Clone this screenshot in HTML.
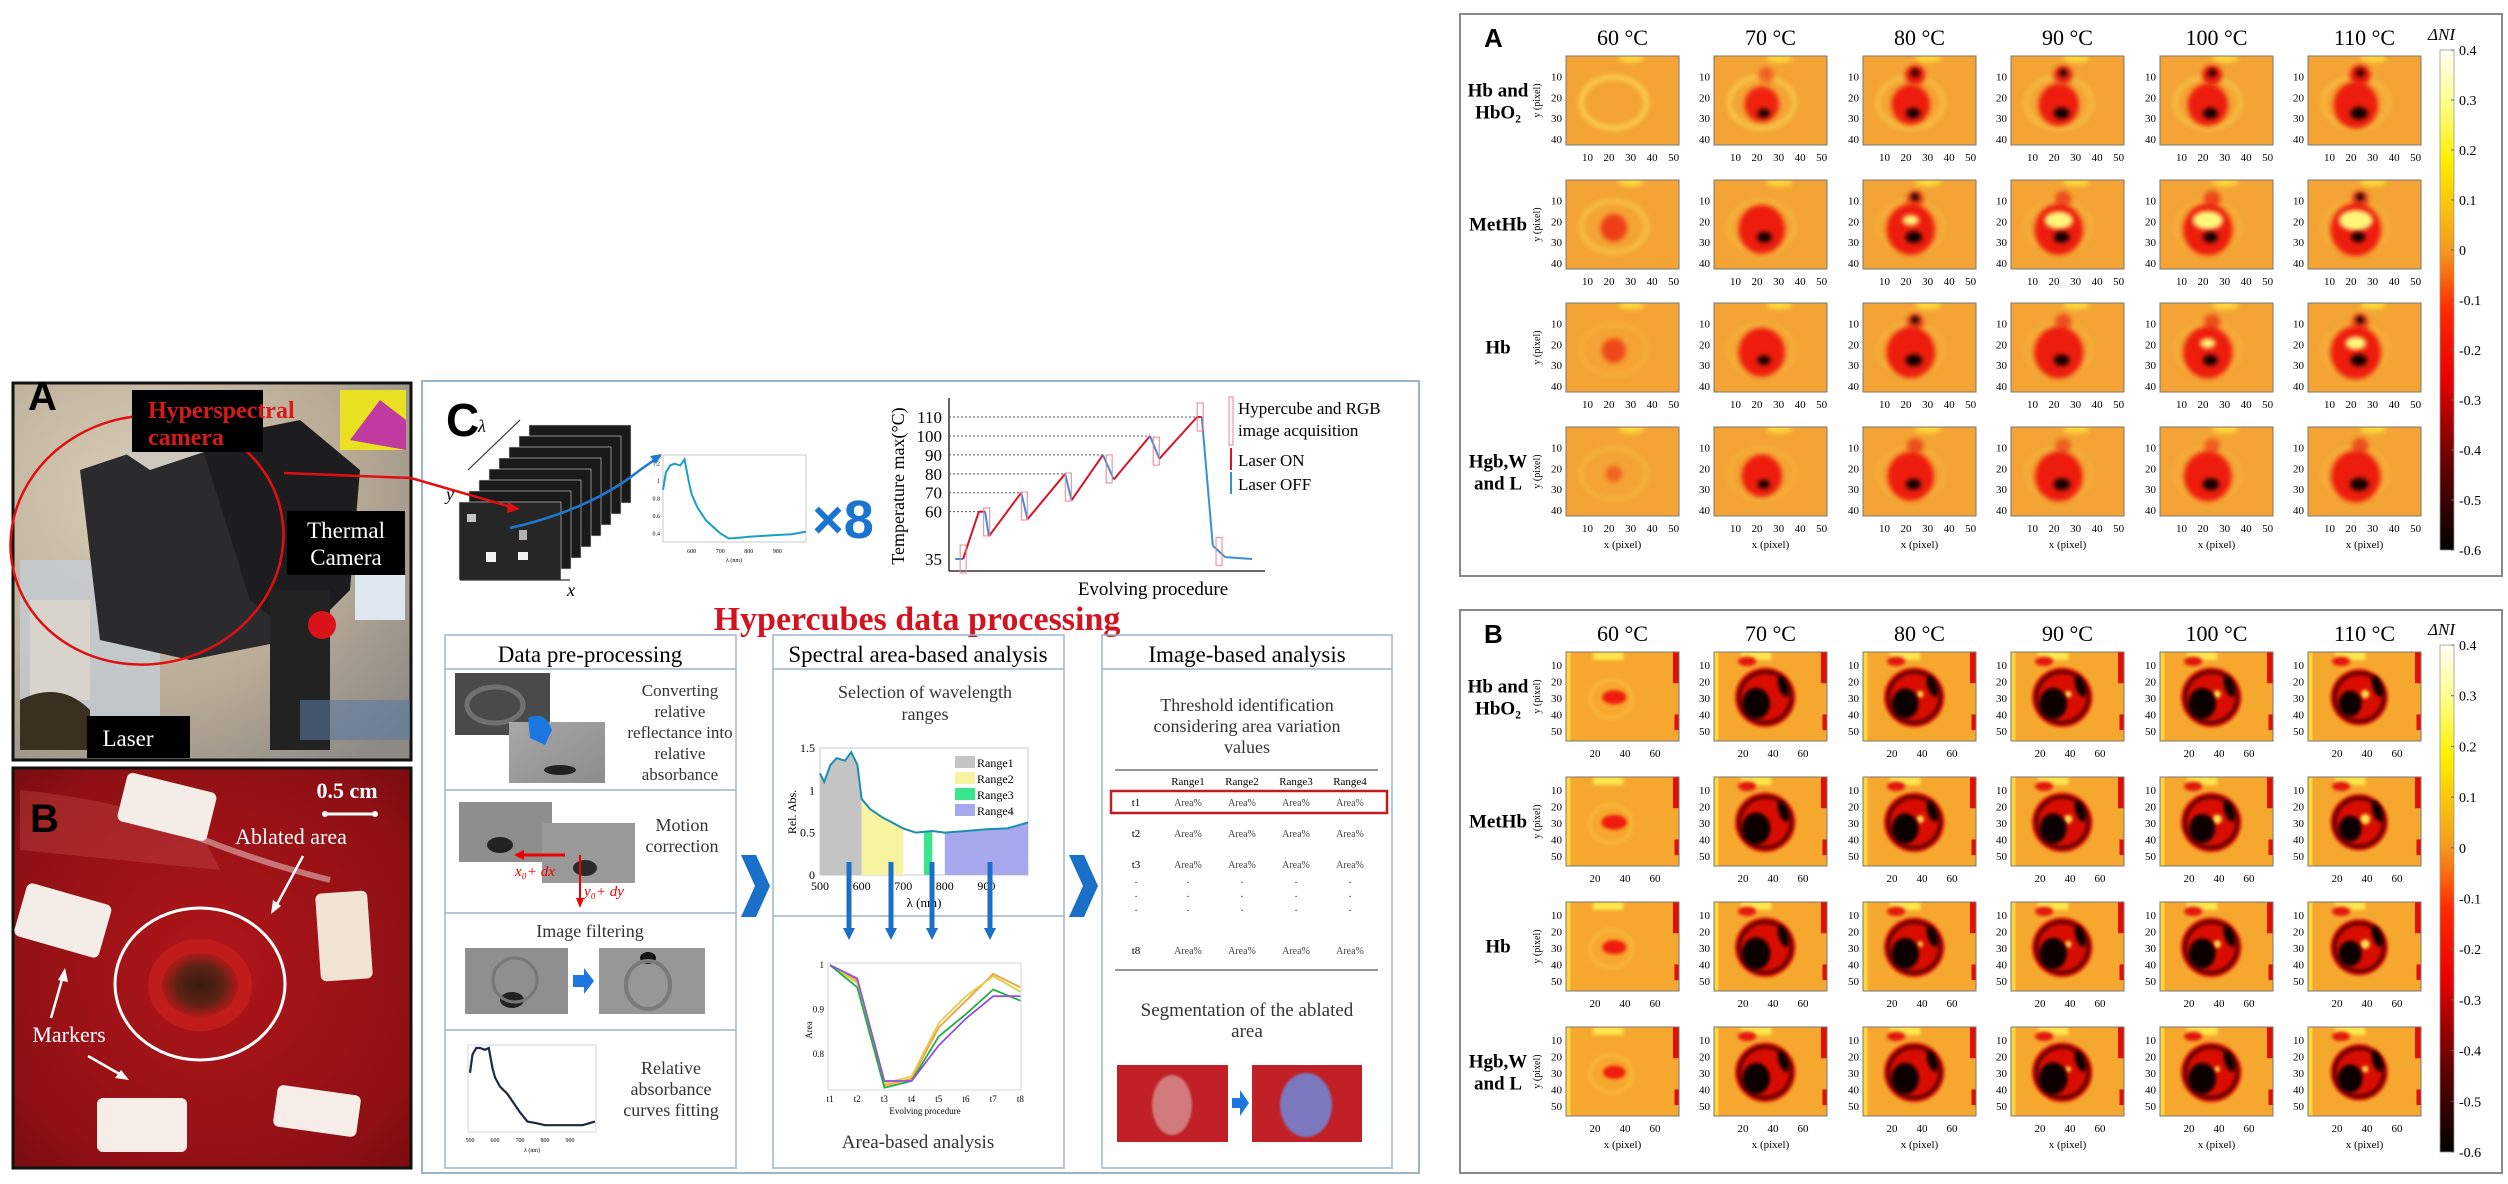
<!DOCTYPE html>
<html><head><meta charset="utf-8"><title>Hyperspectral ablation figure</title>
<style>
html,body{margin:0;padding:0;background:#fff;}
svg{display:block;}
.serif{font-family:"Liberation Serif",serif;}
.sans{font-family:"Liberation Sans",sans-serif;}
</style></head>
<body>
<svg id="fig" xmlns="http://www.w3.org/2000/svg" width="2508" height="1184" viewBox="0 0 2508 1184">
<defs>
  <filter id="blurS" x="-50%" y="-50%" width="200%" height="200%"><feGaussianBlur stdDeviation="1.1"/></filter>
  <filter id="blurL" x="-50%" y="-50%" width="200%" height="200%"><feGaussianBlur stdDeviation="4"/></filter>
  <linearGradient id="cmapA" x1="0" y1="0" x2="0" y2="1">
    <stop offset="0" stop-color="#fffff4"/><stop offset="0.1" stop-color="#ffff90"/>
    <stop offset="0.22" stop-color="#ffef00"/><stop offset="0.4" stop-color="#f39a1c"/>
    <stop offset="0.52" stop-color="#ff2a00"/><stop offset="0.66" stop-color="#e80000"/>
    <stop offset="0.82" stop-color="#6a0000"/><stop offset="1" stop-color="#000"/>
  </linearGradient>
  <radialGradient id="bgPhotoA" cx="0.3" cy="0.3" r="0.9">
    <stop offset="0" stop-color="#d9cdb8"/><stop offset="0.6" stop-color="#b9ab96"/><stop offset="1" stop-color="#8d8a86"/>
  </radialGradient>
  <radialGradient id="bgPhotoB" cx="0.5" cy="0.5" r="0.8">
    <stop offset="0" stop-color="#b0161a"/><stop offset="0.7" stop-color="#8e1014"/><stop offset="1" stop-color="#6a0a0c"/>
  </radialGradient>
  <radialGradient id="burn" cx="0.5" cy="0.5" r="0.5">
    <stop offset="0" stop-color="#3a1a10"/><stop offset="0.6" stop-color="#5a2314"/><stop offset="1" stop-color="#b01a18"/>
  </radialGradient>
  <linearGradient id="grayImg" x1="0" y1="0" x2="1" y2="1">
    <stop offset="0" stop-color="#a8a8a8"/><stop offset="1" stop-color="#8c8c8c"/>
  </linearGradient>
</defs>

<!-- ============ PHOTO A ============ -->
<g>
  <rect x="13" y="383" width="398" height="377" fill="url(#bgPhotoA)" stroke="#111" stroke-width="3"/>
  <rect x="20" y="560" width="140" height="190" fill="#c3cdd6" opacity="0.8"/>
  <rect x="30" y="600" width="60" height="100" fill="#d8d4cc"/>
  <path d="M80 470 L200 430 L300 440 L330 560 L290 640 L190 660 L100 640 Z" fill="#2b2b2e"/>
  <path d="M120 450 L210 420 L240 440 L150 470 Z" fill="#cfc8bc"/>
  <path d="M200 440 L300 420 L360 470 L350 590 L300 640 L250 600 Z" fill="#1d1d20"/>
  <rect x="270" y="590" width="60" height="160" fill="#222"/>
  <circle cx="322" cy="625" r="14" fill="#d8141a"/>
  <rect x="340" y="390" width="66" height="60" fill="#e8e020"/>
  <path d="M350 440 L380 400 L406 420 L406 450 Z" fill="#c03aa0"/>
  <rect x="355" y="560" width="50" height="60" fill="#dfe8f0"/>
  <rect x="300" y="700" width="110" height="40" fill="#5c7aa0" opacity="0.6"/>
  <path d="M20 700 Q60 680 90 710 L90 750 L20 750 Z" fill="#3a3020"/>
  <ellipse cx="147" cy="540" rx="137" ry="124" fill="none" stroke="#e01010" stroke-width="2.5" transform="rotate(-12 147 540)"/>
  <rect x="132" y="390" width="131" height="62" fill="#000"/>
  <text x="148" y="418" class="serif" font-size="24" font-weight="bold" fill="#d81a1a">Hyperspectral</text>
  <text x="148" y="445" class="serif" font-size="24" font-weight="bold" fill="#d81a1a">camera</text>
  <rect x="287" y="511" width="118" height="64" fill="#000"/>
  <text x="346" y="538" class="serif" font-size="23" fill="#fff" text-anchor="middle">Thermal</text>
  <text x="346" y="565" class="serif" font-size="23" fill="#fff" text-anchor="middle">Camera</text>
  <rect x="87" y="716" width="103" height="42" fill="#000"/>
  <text x="128" y="746" class="serif" font-size="23" fill="#fff" text-anchor="middle">Laser</text>
  <text x="28" y="410" class="sans" font-size="40" font-weight="bold" fill="#000">A</text>
</g>

<!-- ============ PHOTO B ============ -->
<g>
  <rect x="13" y="768" width="398" height="400" fill="url(#bgPhotoB)" stroke="#111" stroke-width="3"/>
  <path d="M20 790 Q120 800 200 830 L220 870 Q120 860 20 850 Z" fill="#c8504c" opacity="0.35"/>
  <path d="M180 830 Q250 860 330 880" stroke="#f0d8d8" stroke-width="6" opacity="0.5" fill="none"/>
  <g transform="translate(13,768)">
    <rect x="108" y="14" width="92" height="50" rx="6" fill="#f4ece6" transform="rotate(14 154 39)"/>
    <rect x="6" y="125" width="88" height="55" rx="6" fill="#f4ece6" transform="rotate(16 50 152)"/>
    <rect x="305" y="124" width="52" height="88" rx="6" fill="#f0e4d4" transform="rotate(-4 331 168)"/>
    <rect x="84" y="330" width="90" height="54" rx="6" fill="#f6ece8"/>
    <rect x="262" y="322" width="84" height="42" rx="6" fill="#f6ece8" transform="rotate(8 304 343)"/>
    <ellipse cx="187" cy="217" rx="52" ry="46" fill="#c01c1c"/>
    <ellipse cx="187" cy="217" rx="38" ry="32" fill="url(#burn)"/>
    <ellipse cx="187" cy="216" rx="85" ry="76" fill="none" stroke="#fff" stroke-width="3"/>
    <text x="334" y="30" class="serif" font-size="22" font-weight="bold" fill="#fff" text-anchor="middle">0.5 cm</text>
    <line x1="312" y1="46" x2="362" y2="46" stroke="#fff" stroke-width="3"/>
    <circle cx="312" cy="46" r="3" fill="#fff"/><circle cx="362" cy="46" r="3" fill="#fff"/>
    <text x="278" y="76" class="serif" font-size="22" fill="#fff" text-anchor="middle">Ablated area</text>
    <line x1="290" y1="88" x2="262" y2="140" stroke="#fff" stroke-width="2.5"/>
    <path d="M258 146 L260 132 L268 138 Z" fill="#fff"/>
    <text x="56" y="274" class="serif" font-size="22" fill="#fff" text-anchor="middle">Markers</text>
    <line x1="38" y1="250" x2="50" y2="208" stroke="#fff" stroke-width="2.5"/>
    <path d="M52 200 L55 214 L45 212 Z" fill="#fff"/>
    <line x1="75" y1="288" x2="110" y2="308" stroke="#fff" stroke-width="2.5"/>
    <path d="M116 312 L102 310 L108 302 Z" fill="#fff"/>
    <text x="17" y="64" class="sans" font-size="40" font-weight="bold" fill="#000">B</text>
  </g>
</g>

<!-- ============ PANEL C ============ -->
<g>
  <rect x="422" y="381" width="997" height="792" fill="#fff" stroke="#9db5c8" stroke-width="2"/>
  <text x="446" y="436" class="sans" font-size="46" font-weight="bold" fill="#000">C</text>
  <g id="cube"></g>
  <text x="478" y="432" class="serif" font-size="18" font-style="italic">λ</text>
  <line x1="468" y1="470" x2="520" y2="420" stroke="#333" stroke-width="1.2"/>
  <text x="446" y="500" class="serif" font-size="18" font-style="italic">y</text>
  <text x="567" y="596" class="serif" font-size="18" font-style="italic">x</text>
  <line x1="460" y1="580" x2="570" y2="580" stroke="#333" stroke-width="1.2"/>
  <path d="M510 528 Q590 510 640 470 L660 456" stroke="#1f78d0" stroke-width="2.5" fill="none"/>
  <path d="M662 454 L650 456 L656 464 Z" fill="#1f78d0"/>
  <g id="specTop"></g>
  <text x="843" y="538" class="sans" font-size="54" font-weight="bold" fill="#1a74d2" text-anchor="middle">×8</text>
  <g id="tempChart"></g>

  <text x="917" y="630" class="serif" font-size="34" font-weight="bold" fill="#d31420" text-anchor="middle">Hypercubes data processing</text>

  <rect x="445" y="635" width="291" height="533" fill="none" stroke="#9db5c8" stroke-width="1.5"/>
  <line x1="445" y1="669" x2="736" y2="669" stroke="#9db5c8" stroke-width="1.5"/>
  <line x1="445" y1="790" x2="736" y2="790" stroke="#9db5c8" stroke-width="1.5"/>
  <line x1="445" y1="913" x2="736" y2="913" stroke="#9db5c8" stroke-width="1.5"/>
  <line x1="445" y1="1030" x2="736" y2="1030" stroke="#9db5c8" stroke-width="1.5"/>
  <text x="590" y="662" class="serif" font-size="23" text-anchor="middle">Data pre-processing</text>

  <rect x="773" y="635" width="291" height="533" fill="none" stroke="#9db5c8" stroke-width="1.5"/>
  <line x1="773" y1="669" x2="1064" y2="669" stroke="#9db5c8" stroke-width="1.5"/>
  <line x1="773" y1="916" x2="1064" y2="916" stroke="#9db5c8" stroke-width="1.5"/>
  <text x="918" y="662" class="serif" font-size="23" text-anchor="middle">Spectral area-based analysis</text>

  <rect x="1102" y="635" width="290" height="533" fill="none" stroke="#9db5c8" stroke-width="1.5"/>
  <line x1="1102" y1="669" x2="1392" y2="669" stroke="#9db5c8" stroke-width="1.5"/>
  <text x="1247" y="662" class="serif" font-size="23" text-anchor="middle">Image-based analysis</text>

  <path d="M741 855 L756 855 L770 886 L756 917 L741 917 L755 886 Z" fill="#1a6fc8"/>
  <path d="M1069 855 L1084 855 L1098 886 L1084 917 L1069 917 L1083 886 Z" fill="#1a6fc8"/>

  <rect x="455" y="673" width="95" height="62" fill="#4a4a4a"/>
  <ellipse cx="495" cy="705" rx="28" ry="18" fill="none" stroke="#8a8a8a" stroke-width="5" opacity="0.6"/>
  <rect x="509" y="722" width="96" height="61" fill="url(#grayImg)"/>
  <ellipse cx="560" cy="770" rx="16" ry="5" fill="#222"/>
  <path d="M528 718 Q545 710 552 730 L545 745 L530 738 Z" fill="#1a78e0"/>
  <text class="serif" font-size="17" fill="#333" text-anchor="middle">
    <tspan x="680" y="696">Converting</tspan><tspan x="680" y="717">relative</tspan><tspan x="680" y="738">reflectance into</tspan><tspan x="680" y="759">relative</tspan><tspan x="680" y="780">absorbance</tspan></text>

  <rect x="459" y="802" width="93" height="60" fill="#8e8e8e"/>
  <ellipse cx="500" cy="845" rx="13" ry="8" fill="#222"/>
  <rect x="542" y="823" width="93" height="60" fill="#999"/>
  <ellipse cx="585" cy="868" rx="12" ry="8" fill="#2a2a2a"/>
  <line x1="565" y1="855" x2="520" y2="855" stroke="#e00" stroke-width="3"/>
  <path d="M514 855 L524 850 L524 860 Z" fill="#e00"/>
  <line x1="580" y1="855" x2="580" y2="902" stroke="#e00" stroke-width="2"/>
  <path d="M580 908 L576 898 L584 898 Z" fill="#e00"/>
  <text x="515" y="876" class="serif" font-size="15" font-style="italic" fill="#e00">x₀+ dx</text>
  <text x="584" y="896" class="serif" font-size="15" font-style="italic" fill="#e00">y₀+ dy</text>
  <text class="serif" font-size="18" fill="#333" text-anchor="middle"><tspan x="682" y="831">Motion</tspan><tspan x="682" y="852">correction</tspan></text>

  <text x="590" y="937" class="serif" font-size="18" fill="#333" text-anchor="middle">Image filtering</text>
  <rect x="465" y="948" width="103" height="66" fill="#8f8f8f"/>
  <ellipse cx="512" cy="1000" rx="12" ry="8" fill="#222"/>
  <ellipse cx="515" cy="980" rx="22" ry="22" fill="none" stroke="#777" stroke-width="3"/>
  <rect x="599" y="948" width="106" height="66" fill="#979797"/>
  <ellipse cx="648" cy="958" rx="8" ry="6" fill="#111"/>
  <ellipse cx="648" cy="985" rx="22" ry="24" fill="none" stroke="#7a7a7a" stroke-width="4"/>
  <path d="M573 975 L584 975 L584 968 L594 981 L584 994 L584 987 L573 987 Z" fill="#1a78e0"/>

  <g id="relAbs"></g>
  <text class="serif" font-size="18" fill="#333" text-anchor="middle"><tspan x="671" y="1074">Relative</tspan><tspan x="671" y="1095">absorbance</tspan><tspan x="671" y="1116">curves fitting</tspan></text>

  <text class="serif" font-size="18" fill="#333" text-anchor="middle"><tspan x="925" y="698">Selection of wavelength</tspan><tspan x="925" y="720">ranges</tspan></text>
  <g id="rangeChart"></g>
  <g id="areaChart"></g>
  <text x="918" y="1148" class="serif" font-size="19" fill="#333" text-anchor="middle">Area-based analysis</text>

  <text class="serif" font-size="18" fill="#333" text-anchor="middle"><tspan x="1247" y="711">Threshold identification</tspan><tspan x="1247" y="732">considering area variation</tspan><tspan x="1247" y="753">values</tspan></text>
  <line x1="1115" y1="770" x2="1378" y2="770" stroke="#999" stroke-width="2"/>
  <g id="table"></g>
  <rect x="1111" y="791" width="276" height="22" fill="none" stroke="#c41a22" stroke-width="2.5"/>
  <line x1="1115" y1="970" x2="1378" y2="970" stroke="#999" stroke-width="2"/>
  <text class="serif" font-size="19" fill="#333" text-anchor="middle"><tspan x="1247" y="1016">Segmentation of the ablated</tspan><tspan x="1247" y="1037">area</tspan></text>
  <rect x="1117" y="1065" width="111" height="77" fill="#c02026"/>
  <ellipse cx="1172" cy="1105" rx="20" ry="30" fill="#d9a0a0" opacity="0.7" filter="url(#blurS)"/>
  <rect x="1252" y="1065" width="110" height="77" fill="#c02026"/>
  <ellipse cx="1306" cy="1105" rx="26" ry="32" fill="#7088d8" opacity="0.85" filter="url(#blurS)"/>
  <path d="M1232 1098 L1240 1098 L1240 1090 L1249 1103 L1240 1116 L1240 1108 L1232 1108 Z" fill="#1a78e0"/>
</g>
<path d="M284 473 L411 478 L515 508" stroke="#e01010" stroke-width="2.5" fill="none"/>
<path d="M520 509 L508 502 L507 513 Z" fill="#e01010"/>

<rect x="1460" y="14" width="1042" height="562" fill="#fff" stroke="#888" stroke-width="2"/>
<rect x="1460" y="610" width="1042" height="563" fill="#fff" stroke="#888" stroke-width="2"/>
<text x="1484" y="47" class="sans" font-size="26" font-weight="bold">A</text>
<text x="1484" y="643" class="sans" font-size="26" font-weight="bold">B</text>
<g id="heatA"></g>
<g id="heatB"></g>
</svg>

<script>
const temps = ['60 °C','70 °C','80 °C','90 °C','100 °C','110 °C'];
const rowLabels = [['Hb and','HbO₂'],['MetHb'],['Hb'],['Hgb,W','and L']];
const colorbarTicks = [0.4,0.3,0.2,0.1,0,-0.1,-0.2,-0.3,-0.4,-0.5,-0.6];
const xTicksA = [10,20,30,40,50];
const yTicksA = [10,20,30,40];
const xTicksB = [20,40,60];
const yTicksB = [10,20,30,40,50];
const lesionA = [[0,0.55,0.65,0.7,0.7,0.8],[0.35,0.85,0.9,0.9,0.92,0.95],[0.28,0.85,0.9,0.92,0.92,0.95],[0.08,0.7,0.85,0.88,0.88,0.92]];
const coreA   = [[0,0.45,0.55,0.65,0.6,0.75],[0,0.6,0.7,0.65,0.6,0.55],[0,0.5,0.7,0.65,0.6,0.7],[0,0.45,0.6,0.7,0.7,0.8]];
const brightA = [[0,0,0,0,0,0],[0,0,0.15,0.7,0.8,0.95],[0,0,0,0,0.1,0.35],[0,0,0,0,0,0]];
const lobeA   = [[0,0.3,0.8,0.7,0.8,0.9],[0,0,0.5,0.4,0.45,0.5],[0,0,0.5,0.4,0.4,0.5],[0,0,0.4,0.3,0.3,0.4]];
const ringA   = [[0.9,0.7,0.5,0.5,0.5,0.4],[0.6,0.3,0.2,0.2,0.2,0.2],[0.2,0.2,0.2,0.2,0.2,0.2],[0.3,0.2,0.2,0.2,0.2,0.2]];
const lesionB = [[0.3,0.95,0.95,0.95,0.95,0.9],[0.35,0.95,0.95,0.95,0.95,0.9],[0.3,0.95,0.95,0.95,0.95,0.9],[0.25,0.95,0.95,0.95,0.95,0.9]];
const coreB   = [[0,0.85,0.8,0.85,0.85,0.6],[0,0.9,0.8,0.8,0.75,0.6],[0,0.9,0.85,0.85,0.8,0.6],[0,0.85,0.85,0.9,0.85,0.7]];
const brightB = [[0,0,0.2,0.2,0.3,0.4],[0,0,0.3,0.4,0.5,0.6],[0,0,0.1,0.2,0.3,0.5],[0,0,0,0.1,0.1,0.2]];
const tempT = [2,4.5,9.5,11.5,12.7,23,25,37,39,49,52.5,64,67,79,80.5,84,88,96.5];
const tempV = [35,35,60,60,47,70,56,80,66,90,77,100,88,110,110,42,36,35];
const tempState = ['off','on','on','off','on','off','on','off','on','off','on','off','on','on','off','off','off'];
const tempTicks = [35,60,70,80,90,100,110];
const peakTemps = [60,70,80,90,100,110];
const acqT = [4.5,12,24,38,51,66,80,86];
const specWl = [500,510,525,540,560,575,590,600,620,650,700,730,770,800,850,900,950,1000];
const specTop = [0.9,1.1,1.18,1.2,1.18,1.25,1.0,0.85,0.7,0.55,0.4,0.34,0.35,0.36,0.37,0.38,0.39,0.42];
const specRange = [1.2,1.1,1.3,1.38,1.35,1.45,1.3,0.9,0.78,0.68,0.55,0.5,0.52,0.5,0.52,0.54,0.55,0.62];
const relAbs = [0.95,1.15,1.22,1.22,1.2,1.22,1.0,0.9,0.8,0.72,0.52,0.42,0.4,0.38,0.38,0.38,0.38,0.42];
const rangeNames = ['Range1','Range2','Range3','Range4'];
const rangeStart = [500,600,750,800];
const rangeEnd = [600,700,770,1000];
const rangeColors = ['#c4c4c4','#f7f3a0','#3ae68c','#a8a8ee'];
const wlTicks = [500,600,700,800,900];
const areaLabels = ['t1','t2','t3','t4','t5','t6','t7','t8'];
const areaOrange = [1,0.965,0.73,0.745,0.86,0.92,0.98,0.95];
const areaYellow = [1,0.96,0.735,0.75,0.87,0.93,0.975,0.94];
const areaGreen  = [1,0.95,0.725,0.74,0.84,0.89,0.945,0.92];
const areaPurple = [1,0.97,0.74,0.74,0.82,0.88,0.93,0.93];
const areaTicks = [1,0.9,0.8];
const tableRows = ['t1','t2','t3','t8'];

const NS = 'http://www.w3.org/2000/svg';
function mk(parent, tag, attrs, txt){
  const e = document.createElementNS(NS, tag);
  for (const k in attrs) e.setAttribute(k, attrs[k]);
  if (txt !== undefined) e.textContent = txt;
  parent.appendChild(e);
  return e;
}
function line(parent, pts, color, w){
  const d = pts.map((p,i)=>(i?'L':'M')+p[0].toFixed(1)+' '+p[1].toFixed(1)).join(' ');
  return mk(parent,'path',{d:d,stroke:color,'stroke-width':w,fill:'none'});
}

const cellX = [1566,1714,1863,2011,2160,2308];
const cellW = 113, cellH = 89;
function heatGrid(gid, rowsY, lesion, core, bright, isB, xTicks, yTicks, xmap, ymap, cbTop, cbBot, titleY){
  const g = document.getElementById(gid);
  temps.forEach((t,c)=>{
    const tt = mk(g,'text',{x:cellX[c]+cellW/2,y:titleY,'font-size':22,'text-anchor':'middle','class':'serif'},t);
    
    
  });
  rowLabels.forEach((lab,r)=>{
    const cy = rowsY[r]+cellH/2;
    lab.forEach((s,i)=>{
      const lt = mk(g,'text',{x:1498,y:cy-(lab.length-1)*10+i*22+6,'font-size':19,'font-weight':'bold','text-anchor':'middle','class':'serif'},s);
      
      
    });
    const yl = mk(g,'text',{x:0,y:0,'font-size':10,'text-anchor':'middle','class':'serif',transform:`translate(1540 ${cy}) rotate(-90)`},'y (pixel)');
    
    
    temps.forEach((t,c)=>{
      const x0 = cellX[c], y0 = rowsY[r];
      const vbW = isB?75:52, vbH = isB?57:42;
      const s = mk(g,'svg',{x:x0,y:y0,width:cellW,height:cellH,viewBox:`0 0 ${vbW} ${vbH}`,preserveAspectRatio:'none'});
      
      
      const L = lesion[r][c], K = core[r][c], B = bright[r][c];
      mk(s,'rect',{x:0,y:0,width:vbW,height:vbH,fill:isB?'#f6a82e':'#f3a434'});
      if(!isB){
        mk(s,'ellipse',{cx:30,cy:1,rx:6,ry:2,fill:'#ffd83a',filter:'url(#blurS)'});
        const ring = ringA[r][c];
        mk(s,'ellipse',{cx:22,cy:22,rx:15,ry:12,fill:'none',stroke:'#fad050','stroke-width':2.5,opacity:ring,filter:'url(#blurS)'});
        if(L>0.02) mk(s,'ellipse',{cx:22,cy:22+L*1.5,rx:3+9*L,ry:3+10*L,fill:'#ee1a08',opacity:Math.min(1,0.4+L),filter:'url(#blurS)'});
        const lb = lobeA[r][c];
        if(lb>0) mk(s,'ellipse',{cx:24,cy:9,rx:3+2*lb,ry:3+2*lb,fill:'#e81408',opacity:lb+0.2,filter:'url(#blurS)'});
        if(lb>0.45 && r<3) mk(s,'ellipse',{cx:24,cy:8,rx:1.8,ry:1.8,fill:'#100000',filter:'url(#blurS)'});
        if(B>0) mk(s,'ellipse',{cx:22,cy:19,rx:3+5*B,ry:2+3*B,fill:'#fff67a',filter:'url(#blurS)'});
        if(K>0) mk(s,'ellipse',{cx:22+K*2,cy:27,rx:1+4*K,ry:1+2.5*K,fill:'#0c0000',filter:'url(#blurS)'});
      } else {
        mk(s,'rect',{x:18,y:0,width:20,height:5,fill:'#ffe850',filter:'url(#blurS)'});
        mk(s,'rect',{x:0,y:0,width:3,height:57,fill:'#ffe040',opacity:0.8});
        mk(s,'rect',{x:71,y:0,width:4,height:20,fill:'#e01000'});
        mk(s,'rect',{x:72,y:40,width:3,height:10,fill:'#e01000'});
        if(c===0){
          mk(s,'ellipse',{cx:30,cy:30,rx:14,ry:12,fill:'none',stroke:'#fac042','stroke-width':2.5,opacity:0.6,filter:'url(#blurS)'});
          mk(s,'ellipse',{cx:32,cy:29,rx:5+10*L,ry:3+5*L,fill:'#f01a08',filter:'url(#blurS)'});
        } else {
          mk(s,'ellipse',{cx:34,cy:29,rx:21*L,ry:20*L,fill:'#d80c06',filter:'url(#blurS)'});
          mk(s,'ellipse',{cx:34,cy:29,rx:18*L,ry:17*L,fill:'none',stroke:'#5a0000','stroke-width':2.2,filter:'url(#blurS)'});
          mk(s,'ellipse',{cx:46,cy:22,rx:3,ry:7,fill:'#100000',transform:'rotate(-20 46 22)',filter:'url(#blurS)'});
          mk(s,'ellipse',{cx:22,cy:6,rx:6,ry:3,fill:'#e41208',filter:'url(#blurS)'});
          if(B>0) mk(s,'ellipse',{cx:38,cy:27,rx:1.5+3*B,ry:1.5+3*B,fill:'#ffe650',filter:'url(#blurS)'});
          mk(s,'ellipse',{cx:28,cy:33,rx:4+6*K,ry:4+7*K,fill:'#080000',filter:'url(#blurS)'});
        }
      }
      mk(g,'rect',{x:x0,y:y0,width:cellW,height:cellH,fill:'none',stroke:'#777','stroke-width':1});
      yTicks.forEach(v=>{
        const tk = mk(g,'text',{x:x0-4,y:y0+ymap(v)+4,'font-size':11,'text-anchor':'end','class':'serif'},String(v));
        
        
      });
      xTicks.forEach(v=>{
        const tk = mk(g,'text',{x:x0+xmap(v),y:y0+cellH+16,'font-size':11,'text-anchor':'middle','class':'serif'},String(v));
        
        
      });
      if(r===3){
        const xl = mk(g,'text',{x:x0+cellW/2,y:y0+cellH+32,'font-size':11,'text-anchor':'middle','class':'serif'},'x (pixel)');
        
        
      }
    });
  });
  const cb = mk(g,'rect',{x:2440,y:cbTop,width:14,height:cbBot-cbTop,fill:'url(#cmapA)',stroke:'#999','stroke-width':0.8});
  
  
  const cbScale = v => cbTop + (0.4-v)/1.0*(cbBot-cbTop);
  colorbarTicks.forEach(v=>{
    mk(g,'line',{x1:2451,y1:cbScale(v),x2:2454,y2:cbScale(v),stroke:'#666'});
    const tl = mk(g,'text',{x:2459,y:cbScale(v)+5,'font-size':14,'class':'serif'},String(v));
    
    
  });
  const ct = mk(g,'text',{x:2428,y:cbTop-10,'font-size':17,'font-style':'italic','class':'serif'},'ΔNI');
  
  
}
heatGrid('heatA',[56,180,303,427],lesionA,coreA,brightA,false,xTicksA,yTicksA,v=>v*113/52.5,v=>v*89/43,50,550,45);
heatGrid('heatB',[652,777,902,1027],lesionB,coreB,brightB,true,xTicksB,yTicksB,v=>(v-0.7)*1.5,v=>(v-2)*1.65,645,1152,641);

(function(){
  const g = document.getElementById('cube');
  for(let i=7;i>=0;i--){
    const x = 459+i*10, y = 502-i*11;
    const r = mk(g,'rect',{x:x,y:y,width:102,height:78,fill:i===0?'#262626':'#1a1a1a',stroke:'#ddd','stroke-width':0.6});
    
    
    mk(g,'rect',{x:x+8,y:y+12,width:9,height:8,fill:'#eee',opacity:0.8});
    mk(g,'rect',{x:x+60,y:y+28,width:8,height:10,fill:'#eee',opacity:0.7});
  }
  mk(g,'rect',{x:486,y:552,width:10,height:10,fill:'#f2f2f2'});
  mk(g,'rect',{x:518,y:552,width:10,height:8,fill:'#f2f2f2'});
})();

(function(){
  const g = document.getElementById('specTop');
  const X = wl=>663+(wl-500)*0.286, Y = v=>542-(v-0.3)*87;
  mk(g,'rect',{x:663,y:455,width:143,height:87,fill:'#fff',stroke:'#bbb','stroke-width':0.8});
  const p = line(g,specWl.map((w,i)=>[X(w),Y(specTop[i])]),'#1aa0c8',2);
  
  
  [600,700,800,900].forEach(w=>{
    const t = mk(g,'text',{x:X(w),y:553,'font-size':6,'text-anchor':'middle','class':'serif'},String(w));
    
    
  });
  [0.4,0.6,0.8,1,1.2].forEach(v=>{
    const t = mk(g,'text',{x:660,y:Y(v)+2,'font-size':6,'text-anchor':'end','class':'serif'},String(v));
    
    
  });
  mk(g,'text',{x:734,y:562,'font-size':6,'text-anchor':'middle','class':'serif'},'λ (nm)');
})();

(function(){
  const g = document.getElementById('tempChart');
  const X = t=>949+t*3.14, Y = v=>559-(v-35)*1.893;
  mk(g,'line',{x1:949,y1:398,x2:949,y2:571,stroke:'#333','stroke-width':1.5});
  mk(g,'line',{x1:949,y1:571,x2:1265,y2:571,stroke:'#333','stroke-width':1.5});
  tempTicks.forEach(v=>{
    const t = mk(g,'text',{x:942,y:Y(v)+6,'font-size':17,'text-anchor':'end','class':'serif'},String(v));
    
    
  });
  peakTemps.forEach(v=>{
    const i = tempV.indexOf(v, 2);
    const dl = mk(g,'line',{x1:949,y1:Y(v),x2:X(tempT[i]),y2:Y(v),stroke:'#555','stroke-width':1,'stroke-dasharray':'2 2'});
    
    
  });
  tempState.forEach((st,i)=>{
    const seg = line(g,[[X(tempT[i]),Y(tempV[i])],[X(tempT[i+1]),Y(tempV[i+1])]], st==='on'?'#d8142a':'#3a8ed8',2);
    
    
  });
  acqT.forEach(t=>{
    let i=0; while(i<tempT.length-2 && tempT[i+1]<t) i++;
    const f=(t-tempT[i])/(tempT[i+1]-tempT[i]||1);
    const v=tempV[i]+(tempV[i+1]-tempV[i])*f;
    const a = mk(g,'rect',{x:X(t)-3,y:Y(v)-14,width:6,height:28,fill:'none',stroke:'#f08090','stroke-width':1});
    
    
  });
  mk(g,'text',{x:0,y:0,'font-size':18,'text-anchor':'middle','class':'serif',transform:'translate(904 486) rotate(-90)'},'Temperature max(°C)');
  mk(g,'text',{x:1153,y:595,'font-size':19,'text-anchor':'middle','class':'serif'},'Evolving procedure');
  mk(g,'rect',{x:1229,y:397,width:4,height:48,fill:'none',stroke:'#f08090','stroke-width':1});
  mk(g,'text',{x:1238,y:414,'font-size':17,'class':'serif'},'Hypercube and RGB');
  mk(g,'text',{x:1238,y:436,'font-size':17,'class':'serif'},'image acquisition');
  mk(g,'line',{x1:1231,y1:448,x2:1231,y2:470,stroke:'#d8142a','stroke-width':2});
  mk(g,'text',{x:1238,y:466,'font-size':17,'class':'serif'},'Laser ON');
  mk(g,'line',{x1:1231,y1:472,x2:1231,y2:494,stroke:'#3a8ed8','stroke-width':2});
  mk(g,'text',{x:1238,y:490,'font-size':17,'class':'serif'},'Laser OFF');
})();

(function(){
  const g = document.getElementById('rangeChart');
  const X = wl=>820+(wl-500)*0.416, Y = v=>875-v*84.7;
  const interp = wl=>{ let i=0; while(i<specWl.length-2 && specWl[i+1]<wl) i++; const f=(wl-specWl[i])/(specWl[i+1]-specWl[i]); return specRange[i]+(specRange[i+1]-specRange[i])*f; };
  mk(g,'rect',{x:820,y:748,width:208,height:127,fill:'#fff',stroke:'#bbb','stroke-width':0.8});
  rangeNames.forEach((n,k)=>{
    const pts=[[X(rangeStart[k]),Y(0)]];
    for(let w=rangeStart[k]; w<=rangeEnd[k]; w+=5) pts.push([X(w),Y(interp(w))]);
    pts.push([X(rangeEnd[k]),Y(0)]);
    const a = mk(g,'path',{d:pts.map((p,i)=>(i?'L':'M')+p[0]+' '+p[1]).join(' ')+'Z',fill:rangeColors[k]});
    
    
    mk(g,'rect',{x:955,y:756+k*16,width:20,height:12,fill:rangeColors[k]});
    const lt = mk(g,'text',{x:977,y:767+k*16,'font-size':12,'class':'serif'},n);
    
    
  });
  const c = line(g,specWl.map((w,i)=>[X(w),Y(specRange[i])]),'#1a8fb0',2);
  
  
  wlTicks.forEach(w=>{
    const t = mk(g,'text',{x:X(w),y:890,'font-size':12,'text-anchor':'middle','class':'serif'},String(w));
    
    
  });
  [0,0.5,1,1.5].forEach(v=>{
    const t = mk(g,'text',{x:815,y:Y(v)+4,'font-size':12,'text-anchor':'end','class':'serif'},String(v));
    
    
  });
  mk(g,'text',{x:0,y:0,'font-size':12,'text-anchor':'middle','class':'serif',transform:'translate(796 812) rotate(-90)'},'Rel. Abs.');
  mk(g,'text',{x:924,y:907,'font-size':13,'text-anchor':'middle','class':'serif'},'λ (nm)');
  [849,891,932,990].forEach(x=>{
    mk(g,'line',{x1:x,y1:862,x2:x,y2:930,stroke:'#1a6fc8','stroke-width':5});
    mk(g,'path',{d:`M${x-6} 928 L${x+6} 928 L${x} 940 Z`,fill:'#1a6fc8'});
  });
})();

(function(){
  const g = document.getElementById('areaChart');
  const X = i=>830+i*27.2, Y = v=>965+(1-v)*446;
  mk(g,'rect',{x:828,y:963,width:193,height:127,fill:'#fff',stroke:'#ccc','stroke-width':0.8});
  [[areaOrange,'#f0a040'],[areaYellow,'#e0d040'],[areaGreen,'#20b040'],[areaPurple,'#9050e0']].forEach(([arr,col])=>{
    const p = line(g,arr.map((v,i)=>[X(i),Y(v)]),col,1.8);
    
    
  });
  areaLabels.forEach((l,i)=>{
    const t = mk(g,'text',{x:X(i),y:1102,'font-size':9,'text-anchor':'middle','class':'serif'},l);
    
    
  });
  areaTicks.forEach(v=>{
    const t = mk(g,'text',{x:824,y:Y(v)+3,'font-size':9,'text-anchor':'end','class':'serif'},String(v));
    
    
  });
  mk(g,'text',{x:0,y:0,'font-size':9,'text-anchor':'middle','class':'serif',transform:'translate(812 1030) rotate(-90)'},'Area');
  mk(g,'text',{x:925,y:1114,'font-size':9,'text-anchor':'middle','class':'serif'},'Evolving procedure');
})();

(function(){
  const g = document.getElementById('relAbs');
  const X = wl=>470+(wl-500)*0.25, Y = v=>1128-(v-0.35)*92;
  mk(g,'rect',{x:468,y:1045,width:128,height:87,fill:'#fff',stroke:'#ccc','stroke-width':0.8});
  const p = line(g,specWl.map((w,i)=>[X(w),Y(relAbs[i])]),'#1a2a40',2.2);
  
  
  wlTicks.forEach(w=>mk(g,'text',{x:X(w),y:1142,'font-size':6,'text-anchor':'middle','class':'serif'},String(w)));
  mk(g,'text',{x:532,y:1152,'font-size':6,'text-anchor':'middle','class':'serif'},'λ (nm)');
})();

(function(){
  const g = document.getElementById('table');
  const colX = [1188,1242,1296,1350];
  rangeNames.forEach((n,k)=>{
    const t = mk(g,'text',{x:colX[k],y:785,'font-size':11,'text-anchor':'middle','class':'serif'},n);
    
    
  });
  const rowY = [806,837,868,954];
  tableRows.forEach((r,i)=>{
    const t = mk(g,'text',{x:1136,y:rowY[i],'font-size':11,'text-anchor':'middle','class':'serif'},r);
    
    
    colX.forEach(x=>{
      const c = mk(g,'text',{x:x,y:rowY[i],'font-size':10,'text-anchor':'middle','class':'serif',fill:'#444'},'Area%');
      
      
    });
  });
  [886,900,914].forEach(y=>{
    [1136].concat(colX).forEach(x=>mk(g,'text',{x:x,y:y,'font-size':10,'text-anchor':'middle','class':'serif'},'·'));
  });
})();
</script>
</body></html>
